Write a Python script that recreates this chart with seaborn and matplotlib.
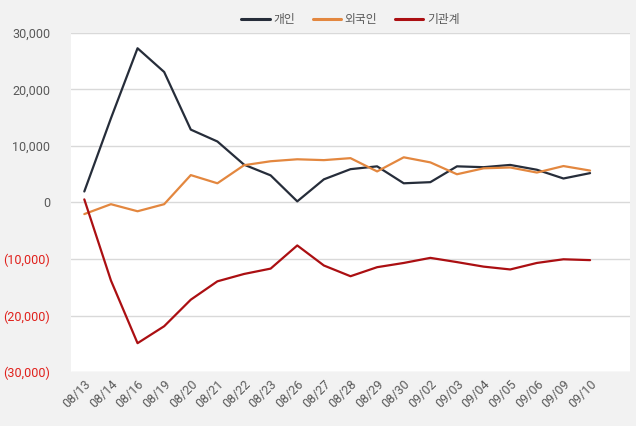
import matplotlib
matplotlib.use("Agg")
import matplotlib.pyplot as plt
import seaborn as sns
import pandas as pd
from matplotlib.ticker import FuncFormatter

dates = ["08/13", "08/14", "08/16", "08/19", "08/20", "08/21", "08/22", "08/23", "08/26", "08/27",
         "08/28", "08/29", "08/30", "09/02", "09/03", "09/04", "09/05", "09/06", "09/09", "09/10"]
individual = [1950, 14900, 27300, 23100, 12900, 10800, 6700, 4800, 200, 4100,
              5900, 6400, 3400, 3600, 6400, 6250, 6650, 5800, 4250, 5200]
foreign = [-2050, -300, -1550, -300, 4850, 3400, 6600, 7300, 7650, 7500,
           7850, 5500, 8000, 7100, 5000, 6050, 6200, 5300, 6450, 5650]
institution = [550, -13800, -24900, -21900, -17200, -13950, -12650, -11700, -7600, -11150,
               -13050, -11450, -10700, -9800, -10550, -11350, -11850, -10700, -10050, -10200]
series_names = ["개인", "외국인", "기관계"]
colors = ["#262d3a", "#e3873f", "#ab0f12"]

sns.set_theme(style="white")
plt.rcParams["font.family"] = ["Roboto", "Noto Sans CJK KR", "DejaVu Sans"]

df = pd.DataFrame({"date": dates * 3,
                   "x": list(range(len(dates))) * 3,
                   "value": individual + foreign + institution,
                   "series": [series_names[0]] * len(dates) + [series_names[1]] * len(dates) + [series_names[2]] * len(dates)})

fig = plt.figure(figsize=(6.36, 4.26), dpi=100, facecolor="#f2f2f2")
ax = fig.add_axes([71 / 636, 1 - 372 / 426, 559 / 636, 339 / 426])
ax.set_facecolor("white")

sns.lineplot(data=df, x="x", y="value", hue="series", hue_order=series_names,
             palette=colors, linewidth=1.6, ax=ax, legend=True, sort=False)

ax.set_xlim(-0.5, len(dates) + 0.5)
ax.set_ylim(-30000, 30000)
ax.set_yticks(range(-30000, 30001, 10000))
ax.yaxis.set_major_formatter(FuncFormatter(lambda v, p: "0" if v == 0 else (f"{v:,.0f}" if v > 0 else f"({-v:,.0f})")))
ax.set_xticks(range(len(dates)))
ax.set_xticklabels(dates, rotation=45, ha="right", rotation_mode="anchor")
ax.tick_params(axis="both", length=0, labelsize=9, colors="#595959")
ax.tick_params(axis="y", pad=15)
ax.tick_params(axis="x", pad=4)
for lbl, v in zip(ax.get_yticklabels(), ax.get_yticks()):
    if v < 0:
        lbl.set_color("#e0201b")
ax.grid(axis="y", color="#d9d9d9", linewidth=1)
ax.grid(axis="x", visible=False)
for s in ax.spines.values():
    s.set_visible(False)
ax.set_xlabel("")
ax.set_ylabel("")

leg = ax.legend(loc="upper center", bbox_to_anchor=(0.5, 1 + 25 / 339), ncol=3, frameon=False,
                fontsize=8.5, handlelength=2.4, handletextpad=0.3, columnspacing=1.5, borderaxespad=0)
for t in leg.get_texts():
    t.set_color("#595959")
for h in leg.get_lines():
    h.set_linewidth(2.2)

fig.savefig("out.png", dpi=100, facecolor=fig.get_facecolor())
